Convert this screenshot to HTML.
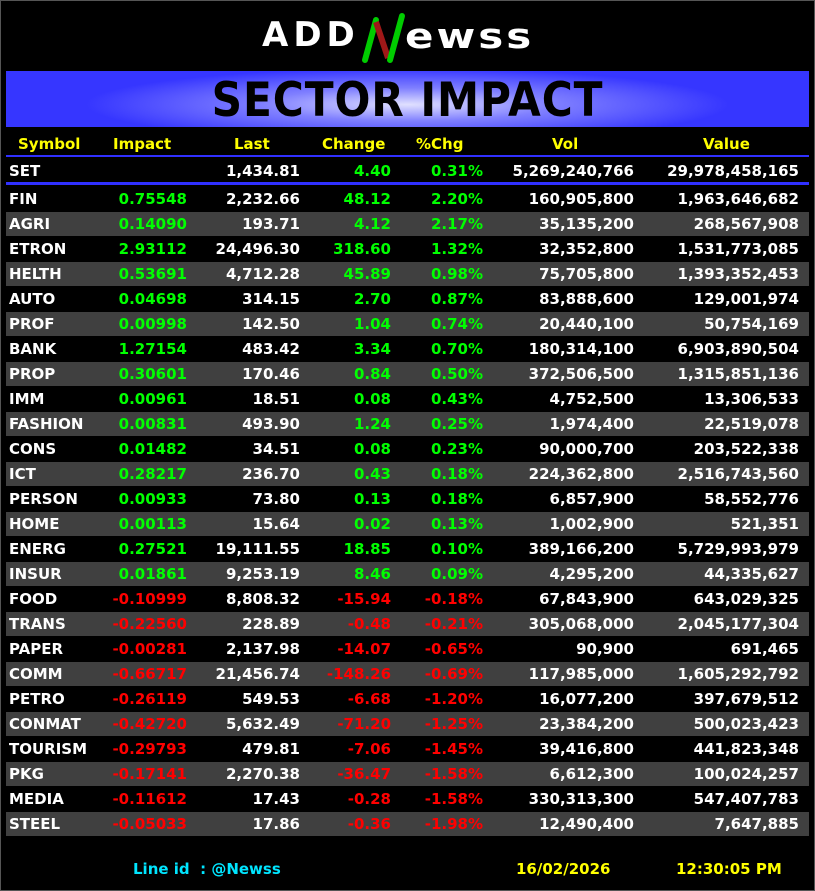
<!DOCTYPE html>
<html><head><meta charset="utf-8"><style>
body{margin:0;width:815px;height:891px;background:#000;overflow:hidden;position:relative;font-family:"DejaVu Sans","Liberation Sans",sans-serif;font-weight:bold;}
.frame{position:absolute;left:0;top:0;width:813px;height:889px;border:1px solid #555;}
.banner{position:absolute;left:6px;top:71px;width:803px;height:56px;background:radial-gradient(ellipse 40% 65% at 50% 60%,#e0e0ff 0%,#8080ff 45%,#3636ff 100%);}
.banner div{position:absolute;left:0;right:0;top:2px;text-align:center;font-family:"DejaVu Sans",sans-serif;font-weight:bold;font-size:47px;color:#000;transform:scaleX(0.9);letter-spacing:1px;}
.row{position:absolute;left:6px;width:803px;height:24px;font-size:15px;line-height:24px;color:#fff;}
.row span{position:absolute;white-space:nowrap;}
.g{background:#404040;}
.c0{left:3px}.c1{right:622px}.c2{right:509px}.c3{right:418px}.c4{right:326px}.c5{right:175px}.c6{right:10px}
.gr{color:#00ff00}.rd{color:#ff0000}
.hd{color:#ffff00;}
.line{position:absolute;left:6px;width:803px;background:#3030ff;}
.ft{position:absolute;top:859px;font-size:15px;line-height:20px;}
</style></head><body>
<div class="frame"></div>
<div style="position:absolute;left:262px;top:15px;font-family:'DejaVu Sans',sans-serif;font-size:34px;color:#fff;font-weight:bold;letter-spacing:5px;">ADD</div>
<svg style="position:absolute;left:358px;top:12px" width="50" height="54"><line x1="7" y1="48" x2="18" y2="8" stroke="#0c0" stroke-width="6" stroke-linecap="round"/><line x1="18" y1="10" x2="30" y2="46" stroke="#a01818" stroke-width="6"/><line x1="32" y1="48" x2="44" y2="4" stroke="#0c0" stroke-width="6" stroke-linecap="round"/></svg>
<div style="position:absolute;left:405px;top:13px;font-family:'DejaVu Sans',sans-serif;font-size:42px;line-height:44px;color:#fff;font-weight:bold;letter-spacing:3px;transform:scaleY(0.82);transform-origin:0 70%;">ewss</div>
<div class="banner"><div>SECTOR IMPACT</div></div>
<div class="row hd" style="top:132px"><span style="left:12px">Symbol</span><span style="left:107px">Impact</span><span style="left:228px">Last</span><span style="left:316px">Change</span><span style="left:410px">%Chg</span><span style="left:546px">Vol</span><span style="left:697px">Value</span></div>
<div class="line" style="top:155px;height:2px"></div>
<div class="row" style="top:159px"><span class="c0">SET</span><span class="c2">1,434.81</span><span class="c3 gr">4.40</span><span class="c4 gr">0.31%</span><span class="c5">5,269,240,766</span><span class="c6">29,978,458,165</span></div>
<div class="line" style="top:182px;height:3px"></div>
<div id="rows"></div>
<div class="ft" style="left:133px;color:#00e5ff">Line id&nbsp; : @Newss</div>
<div class="ft" style="left:516px;color:#ffff00">16/02/2026</div>
<div class="ft" style="left:676px;color:#ffff00">12:30:05 PM</div>
<script>
var d=[["FIN","0.75548","2,232.66","48.12","2.20%","160,905,800","1,963,646,682"],
["AGRI","0.14090","193.71","4.12","2.17%","35,135,200","268,567,908"],
["ETRON","2.93112","24,496.30","318.60","1.32%","32,352,800","1,531,773,085"],
["HELTH","0.53691","4,712.28","45.89","0.98%","75,705,800","1,393,352,453"],
["AUTO","0.04698","314.15","2.70","0.87%","83,888,600","129,001,974"],
["PROF","0.00998","142.50","1.04","0.74%","20,440,100","50,754,169"],
["BANK","1.27154","483.42","3.34","0.70%","180,314,100","6,903,890,504"],
["PROP","0.30601","170.46","0.84","0.50%","372,506,500","1,315,851,136"],
["IMM","0.00961","18.51","0.08","0.43%","4,752,500","13,306,533"],
["FASHION","0.00831","493.90","1.24","0.25%","1,974,400","22,519,078"],
["CONS","0.01482","34.51","0.08","0.23%","90,000,700","203,522,338"],
["ICT","0.28217","236.70","0.43","0.18%","224,362,800","2,516,743,560"],
["PERSON","0.00933","73.80","0.13","0.18%","6,857,900","58,552,776"],
["HOME","0.00113","15.64","0.02","0.13%","1,002,900","521,351"],
["ENERG","0.27521","19,111.55","18.85","0.10%","389,166,200","5,729,993,979"],
["INSUR","0.01861","9,253.19","8.46","0.09%","4,295,200","44,335,627"],
["FOOD","-0.10999","8,808.32","-15.94","-0.18%","67,843,900","643,029,325"],
["TRANS","-0.22560","228.89","-0.48","-0.21%","305,068,000","2,045,177,304"],
["PAPER","-0.00281","2,137.98","-14.07","-0.65%","90,900","691,465"],
["COMM","-0.66717","21,456.74","-148.26","-0.69%","117,985,000","1,605,292,792"],
["PETRO","-0.26119","549.53","-6.68","-1.20%","16,077,200","397,679,512"],
["CONMAT","-0.42720","5,632.49","-71.20","-1.25%","23,384,200","500,023,423"],
["TOURISM","-0.29793","479.81","-7.06","-1.45%","39,416,800","441,823,348"],
["PKG","-0.17141","2,270.38","-36.47","-1.58%","6,612,300","100,024,257"],
["MEDIA","-0.11612","17.43","-0.28","-1.58%","330,313,300","547,407,783"],
["STEEL","-0.05033","17.86","-0.36","-1.98%","12,490,400","7,647,885"]];
var h="";
d.forEach(function(r,i){var c=r[1][0]=="-"?"rd":"gr";
h+='<div class="row'+(i%2?' g':'')+'" style="top:'+(187+25*i)+'px"><span class="c0">'+r[0]+'</span><span class="c1 '+c+'">'+r[1]+'</span><span class="c2">'+r[2]+'</span><span class="c3 '+c+'">'+r[3]+'</span><span class="c4 '+c+'">'+r[4]+'</span><span class="c5">'+r[5]+'</span><span class="c6">'+r[6]+'</span></div>';});
document.getElementById("rows").innerHTML=h;
</script>
</body></html>
